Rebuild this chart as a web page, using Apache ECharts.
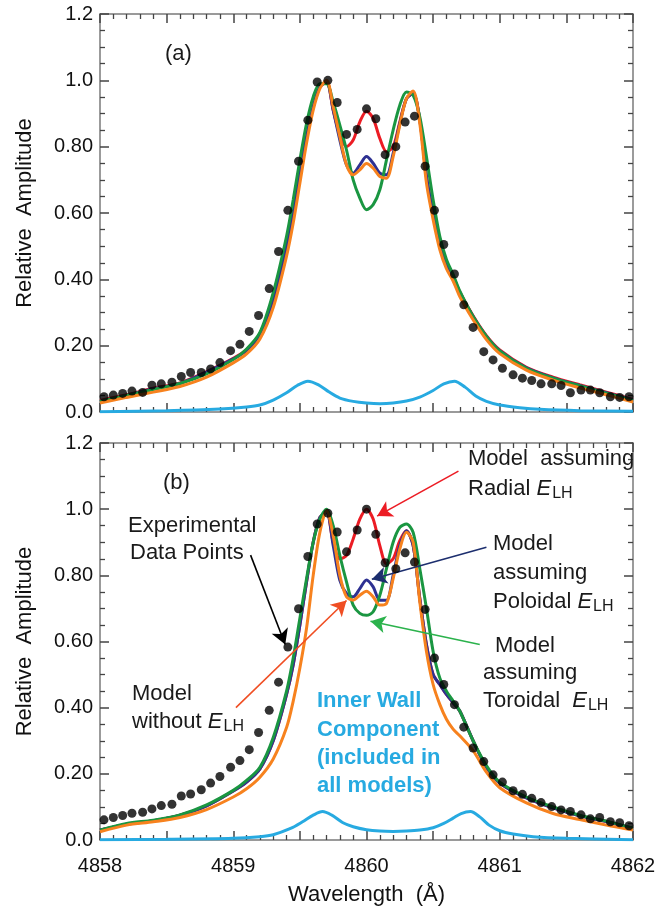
<!DOCTYPE html>
<html>
<head>
<meta charset="utf-8">
<script src="https://cdn.jsdelivr.net/npm/echarts@6/dist/echarts.min.js"></script>
<style>
  html, body { margin: 0; padding: 0; background: #fff; }
  #main { width: 669px; height: 914px; }
</style>
</head>
<body>
<div id="main"></div>
<script>
// wavelength grid of the model curves (Angstrom)
var wl = [4858.0, 4858.2, 4858.4, 4858.6, 4858.8, 4859.0, 4859.1, 4859.2, 4859.3, 4859.4,
  4859.45, 4859.5, 4859.55, 4859.6, 4859.65, 4859.7, 4859.75, 4859.8, 4859.85, 4859.9,
  4859.95, 4860.0, 4860.05, 4860.1, 4860.15, 4860.2, 4860.25, 4860.3, 4860.35, 4860.4,
  4860.45, 4860.5, 4860.55, 4860.6, 4860.65, 4860.7, 4860.8, 4860.9, 4861.0, 4861.2,
  4861.4, 4861.6, 4861.8, 4862.0];

// panel (a)
var aRed = [0.035, 0.052, 0.072, 0.088, 0.122, 0.162, 0.188, 0.237, 0.342, 0.50,
  0.60, 0.72, 0.83, 0.92, 0.98, 0.995, 0.91, 0.835, 0.80, 0.82,
  0.875, 0.907, 0.885, 0.825, 0.785, 0.80, 0.875, 0.945, 0.96, 0.88,
  0.71, 0.60, 0.51, 0.45, 0.41, 0.362, 0.29, 0.23, 0.187, 0.135,
  0.105, 0.082, 0.06, 0.038];
var aBlue = [0.032, 0.05, 0.07, 0.086, 0.12, 0.16, 0.185, 0.235, 0.34, 0.50,
  0.60, 0.72, 0.83, 0.92, 0.98, 0.995, 0.91, 0.82, 0.745, 0.72,
  0.745, 0.77, 0.75, 0.72, 0.715, 0.78, 0.87, 0.945, 0.96, 0.88,
  0.71, 0.60, 0.51, 0.448, 0.408, 0.36, 0.288, 0.228, 0.185, 0.133,
  0.103, 0.08, 0.058, 0.036];
var aGreen = [0.032, 0.05, 0.068, 0.086, 0.115, 0.158, 0.19, 0.24, 0.36, 0.53,
  0.64, 0.76, 0.87, 0.95, 0.99, 0.99, 0.935, 0.865, 0.79, 0.70,
  0.645, 0.61, 0.625, 0.67, 0.76, 0.85, 0.925, 0.965, 0.955, 0.89,
  0.77, 0.64, 0.53, 0.46, 0.415, 0.365, 0.288, 0.228, 0.184, 0.132,
  0.102, 0.079, 0.057, 0.035];
var aOrange = [0.027, 0.044, 0.06, 0.077, 0.105, 0.148, 0.175, 0.22, 0.315, 0.47,
  0.57, 0.69, 0.81, 0.91, 0.975, 1.0, 0.92, 0.83, 0.745, 0.715,
  0.73, 0.749, 0.735, 0.71, 0.705, 0.77, 0.865, 0.945, 0.968, 0.87,
  0.69, 0.58, 0.49, 0.432, 0.395, 0.348, 0.278, 0.218, 0.176, 0.126,
  0.096, 0.073, 0.052, 0.03];
var aWallX = [4858.0, 4858.5, 4858.9, 4859.1, 4859.2, 4859.3, 4859.4, 4859.48, 4859.56, 4859.64,
  4859.72, 4859.8, 4859.9, 4860.0, 4860.1, 4860.2, 4860.3, 4860.4, 4860.5, 4860.58,
  4860.66, 4860.74, 4860.82, 4860.9, 4861.0, 4861.15, 4861.3, 4861.6, 4862.0];
var aWall = [0.001, 0.004, 0.009, 0.015, 0.021, 0.036, 0.058, 0.08, 0.093, 0.082,
  0.06, 0.042, 0.032, 0.027, 0.025, 0.027, 0.033, 0.045, 0.065, 0.085,
  0.093, 0.075, 0.048, 0.032, 0.021, 0.013, 0.008, 0.004, 0.002];

// panel (b)
var bRed = [0.030, 0.048, 0.058, 0.075, 0.103, 0.148, 0.175, 0.215, 0.30, 0.44,
  0.53, 0.65, 0.78, 0.90, 0.975, 0.99, 0.90, 0.85, 0.86, 0.91,
  0.97, 1.0, 0.97, 0.89, 0.835, 0.85, 0.905, 0.935, 0.89, 0.73,
  0.59, 0.50, 0.47, 0.44, 0.415, 0.39, 0.30, 0.22, 0.172, 0.127,
  0.097, 0.073, 0.056, 0.035];
var bBlue = [0.030, 0.048, 0.058, 0.075, 0.103, 0.148, 0.175, 0.215, 0.30, 0.44,
  0.53, 0.65, 0.78, 0.90, 0.975, 0.99, 0.89, 0.785, 0.745, 0.735,
  0.76, 0.786, 0.765, 0.725, 0.725, 0.80, 0.89, 0.935, 0.89, 0.73,
  0.59, 0.50, 0.47, 0.44, 0.415, 0.39, 0.30, 0.22, 0.172, 0.127,
  0.097, 0.073, 0.056, 0.035];
var bGreen = [0.030, 0.05, 0.06, 0.076, 0.106, 0.15, 0.18, 0.22, 0.31, 0.45,
  0.55, 0.67, 0.79, 0.90, 0.97, 1.0, 0.95, 0.86, 0.78, 0.71,
  0.685, 0.679, 0.69, 0.74, 0.82, 0.90, 0.945, 0.955, 0.93, 0.82,
  0.70, 0.57, 0.49, 0.45, 0.42, 0.39, 0.30, 0.225, 0.175, 0.13,
  0.10, 0.075, 0.057, 0.036];
var bOrange = [0.025, 0.045, 0.055, 0.068, 0.092, 0.13, 0.155, 0.19, 0.245, 0.34,
  0.42, 0.52, 0.64, 0.80, 0.93, 0.995, 0.92, 0.80, 0.735, 0.725,
  0.74, 0.752, 0.735, 0.71, 0.715, 0.79, 0.88, 0.93, 0.90, 0.72,
  0.57, 0.47, 0.41, 0.365, 0.335, 0.315, 0.27, 0.205, 0.158, 0.112,
  0.08, 0.062, 0.045, 0.03];
var bWallX = [4858.0, 4858.5, 4859.0, 4859.2, 4859.3, 4859.43, 4859.52, 4859.6, 4859.67, 4859.74,
  4859.82, 4859.9, 4860.0, 4860.1, 4860.2, 4860.3, 4860.4, 4860.5, 4860.58, 4860.65,
  4860.71, 4860.78, 4860.85, 4860.92, 4861.0, 4861.1, 4861.25, 4861.5, 4862.0];
var bWall = [0.001, 0.002, 0.005, 0.01, 0.016, 0.035, 0.055, 0.075, 0.086, 0.075,
  0.053, 0.04, 0.031, 0.027, 0.026, 0.027, 0.03, 0.037, 0.05, 0.066,
  0.08, 0.086, 0.07, 0.045, 0.028, 0.018, 0.01, 0.005, 0.001];

// experimental data points (same wavelengths in both panels)
var ptsX = [4858.03, 4858.10, 4858.17, 4858.24, 4858.32, 4858.39, 4858.46, 4858.54, 4858.61, 4858.68,
  4858.76, 4858.83, 4858.90, 4858.98, 4859.05, 4859.12, 4859.19, 4859.27, 4859.34, 4859.41,
  4859.49, 4859.56, 4859.63, 4859.71, 4859.78, 4859.85, 4859.93, 4860.00, 4860.07, 4860.14,
  4860.22, 4860.29, 4860.36, 4860.44, 4860.51, 4860.58, 4860.66, 4860.73, 4860.80, 4860.88,
  4860.95, 4861.02, 4861.10, 4861.17, 4861.24, 4861.31, 4861.39, 4861.46, 4861.53, 4861.61,
  4861.68, 4861.75, 4861.83, 4861.90, 4861.97];
var aPts = [0.046, 0.051, 0.056, 0.063, 0.059, 0.081, 0.085, 0.09, 0.107, 0.119,
  0.119, 0.13, 0.149, 0.185, 0.204, 0.243, 0.291, 0.372, 0.484, 0.608,
  0.756, 0.880, 0.995, 1.0, 0.933, 0.837, 0.852, 0.914, 0.884, 0.776,
  0.80, 0.874, 0.892, 0.741, 0.608, 0.505, 0.416, 0.323, 0.255, 0.182,
  0.157, 0.132, 0.112, 0.102, 0.095, 0.085, 0.085, 0.080, 0.058, 0.066,
  0.066, 0.058, 0.046, 0.044, 0.046];
var bPts = [0.061, 0.068, 0.074, 0.081, 0.084, 0.094, 0.104, 0.108, 0.133, 0.139,
  0.152, 0.172, 0.192, 0.22, 0.24, 0.273, 0.325, 0.392, 0.477, 0.583,
  0.699, 0.857, 0.955, 0.988, 0.931, 0.871, 0.937, 1.0, 0.924, 0.838,
  0.82, 0.868, 0.840, 0.697, 0.55, 0.47, 0.409, 0.341, 0.278, 0.237,
  0.197, 0.175, 0.149, 0.138, 0.126, 0.113, 0.101, 0.091, 0.086, 0.076,
  0.064, 0.068, 0.055, 0.052, 0.043];

var yTickLabels = ['0.0', '0.20', '0.40', '0.60', '0.80', '1.0', '1.2'];

var FONT = '"Liberation Sans", Arial, Helvetica, sans-serif';
var colRed = '#ec1c24', colBlue = '#2e3192', colGreen = '#1a9641',
    colOrange = '#f7821e', colCyan = '#27aae1';

function pairs(xs, ys) {
  var out = [];
  for (var i = 0; i < xs.length; i++) out.push([xs[i], ys[i]]);
  return out;
}

var tickColor = '#444';

function xAx(grid, pos, labels) {
  return {
    type: 'value', gridIndex: grid, position: pos, min: 4858, max: 4862, interval: 0.5,
    axisLine: { show: true, onZero: false, lineStyle: { color: '#7a7a7a', width: 1.5 } },
    axisTick: { show: true, inside: true, length: 9, lineStyle: { color: tickColor, width: 1.5 } },
    minorTick: { show: true, splitNumber: 5, length: 5, lineStyle: { color: tickColor, width: 1.3 } },
    splitLine: { show: false },
    axisLabel: {
      show: !!labels, margin: 16, color: '#111', fontSize: 20, fontFamily: FONT,
      formatter: function (v) { return Math.abs(v - Math.round(v)) < 1e-6 ? String(Math.round(v)) : ''; }
    },
    name: labels ? 'Wavelength  (\u00c5)' : '',
    nameLocation: 'middle', nameGap: 44,
    nameTextStyle: { fontSize: 22, color: '#111', fontFamily: FONT }
  };
}

function yAx(grid, pos, labels) {
  return {
    type: 'value', gridIndex: grid, position: pos, min: 0, max: 1.2, interval: 0.2,
    axisLine: { show: true, onZero: false, lineStyle: { color: '#7a7a7a', width: 1.5 } },
    axisTick: { show: true, inside: true, length: 9, lineStyle: { color: tickColor, width: 1.5 } },
    minorTick: { show: true, splitNumber: 4, length: 5, lineStyle: { color: tickColor, width: 1.3 } },
    splitLine: { show: false },
    axisLabel: {
      show: !!labels, margin: 7, color: '#111', fontSize: 20, fontFamily: FONT,
      formatter: function (v) { return yTickLabels[Math.round(v / 0.2)]; }
    },
    name: labels ? 'Relative  Amplitude' : '',
    nameLocation: 'middle', nameGap: 64, nameRotate: 90,
    nameTextStyle: { fontSize: 22, color: '#111', fontFamily: FONT }
  };
}

function lineS(name, xi, xs, ys, color) {
  return {
    name: name, type: 'line', xAxisIndex: xi, yAxisIndex: xi,
    data: pairs(xs, ys), showSymbol: false, smooth: 0.3,
    lineStyle: { color: color, width: 3 }, silent: true
  };
}

function arrow(x1, y1, x2, y2, color) {
  return [
    { coord: [x1, y1], lineStyle: { color: color, width: 1.6, type: 'solid' } },
    { coord: [x2, y2] }
  ];
}

var ELH = '{e|E}{s|LH}';
var rich = {
  e: { fontSize: 22, fontStyle: 'italic', fontFamily: FONT, color: '#1a1a1a' },
  s: { fontSize: 16, fontFamily: FONT, color: '#1a1a1a', padding: [9, 0, 0, 1] }
};

function plain(x, y, text) {
  return { type: 'text', z: 20, silent: true, style: {
    text: text, x: x, y: y, fill: '#1a1a1a', fontSize: 22, fontFamily: FONT,
    verticalAlign: 'middle', rich: rich } };
}

function cyanNote(x, y, text) {
  return { type: 'text', z: 20, silent: true, style: {
    text: text, x: x, y: y, fill: colCyan, fontSize: 22, fontWeight: 'bold',
    fontFamily: FONT, verticalAlign: 'middle' } };
}

var option = {
  animation: false,
  grid: [
    { left: 100, top: 14, width: 533, height: 398 },
    { left: 100, top: 443, width: 533, height: 397 }
  ],
  xAxis: [xAx(0, 'bottom', false), xAx(1, 'bottom', true), xAx(0, 'top', false), xAx(1, 'top', false)],
  yAxis: [yAx(0, 'left', true), yAx(1, 'left', true), yAx(0, 'right', false), yAx(1, 'right', false)],
  series: [
    lineS('Radial a', 0, wl, aRed, colRed),
    lineS('Poloidal a', 0, wl, aBlue, colBlue),
    lineS('Toroidal a', 0, wl, aGreen, colGreen),
    lineS('No field a', 0, wl, aOrange, colOrange),
    lineS('Inner wall a', 0, aWallX, aWall, colCyan),
    {
      type: 'scatter', xAxisIndex: 0, yAxisIndex: 0, data: pairs(ptsX, aPts),
      symbolSize: 9, itemStyle: { color: '#000' }, silent: true, z: 5
    },
    lineS('Radial b', 1, wl, bRed, colRed),
    lineS('Poloidal b', 1, wl, bBlue, colBlue),
    lineS('Toroidal b', 1, wl, bGreen, colGreen),
    lineS('No field b', 1, wl, bOrange, colOrange),
    lineS('Inner wall b', 1, bWallX, bWall, colCyan),
    {
      type: 'scatter', xAxisIndex: 1, yAxisIndex: 1, data: pairs(ptsX, bPts),
      symbolSize: 9, itemStyle: { color: '#000' }, silent: true, z: 5,
      markLine: {
        silent: true, symbol: ['none', 'arrow'], symbolSize: [13, 15],
        label: { show: false }, animation: false,
        data: [
          arrow(4860.69, 1.115, 4860.08, 0.979, colRed),
          arrow(4860.90, 0.885, 4860.04, 0.788, '#1c2e6e'),
          arrow(4860.85, 0.591, 4860.03, 0.661, '#2bb24c'),
          arrow(4859.02, 0.40, 4859.85, 0.724, '#f04e23'),
          arrow(4859.13, 0.861, 4859.39, 0.591, '#000')
        ]
      }
    }
  ],
  graphic: [
    plain(165, 54, '(a)'),
    plain(163, 483, '(b)'),
    plain(468, 459, 'Model  assuming'),
    plain(468, 489, 'Radial ' + ELH),
    plain(493, 544, 'Model'),
    plain(493, 573, 'assuming'),
    plain(493, 602, 'Poloidal ' + ELH),
    plain(495, 646, 'Model'),
    plain(483, 673, 'assuming'),
    plain(483, 701, 'Toroidal  ' + ELH),
    plain(128, 526, 'Experimental'),
    plain(130, 553, 'Data Points'),
    plain(132, 694, 'Model'),
    plain(132, 722, 'without ' + ELH),
    cyanNote(317, 701, 'Inner Wall'),
    cyanNote(317, 730, 'Component'),
    cyanNote(317, 758, '(included in'),
    cyanNote(317, 786, 'all models)')
  ]
};

var myChart = echarts.init(document.getElementById('main'));
myChart.setOption(option);
</script>
</body>
</html>
